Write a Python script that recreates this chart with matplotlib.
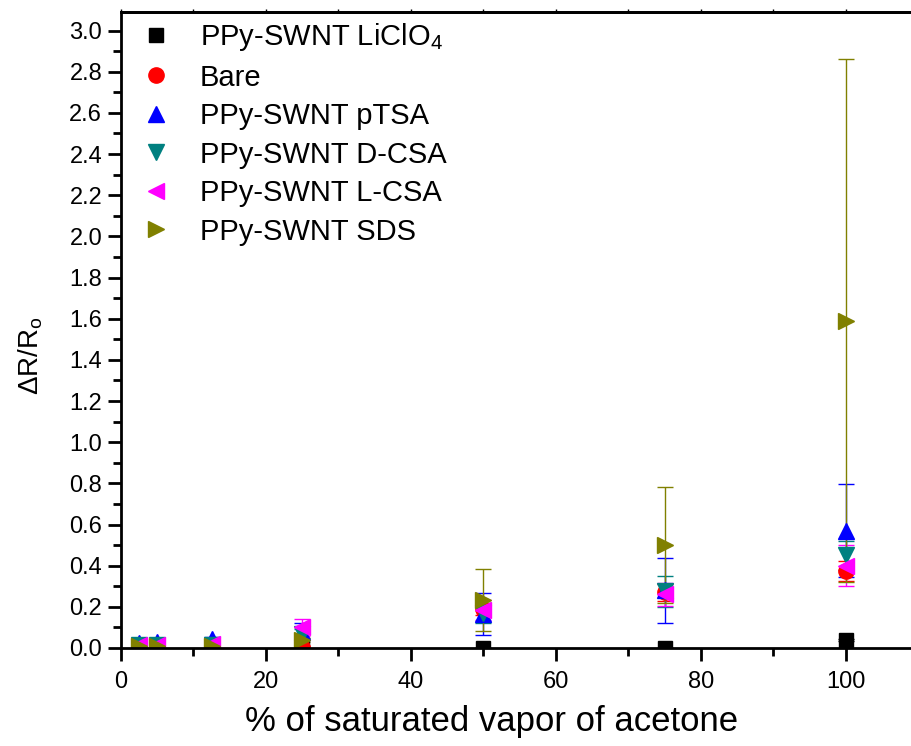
import matplotlib
matplotlib.use("Agg")
import matplotlib.pyplot as plt
from matplotlib.ticker import MultipleLocator, FormatStrFormatter, NullFormatter

plt.rcParams["font.family"] = ["Liberation Sans", "DejaVu Sans"]
plt.rcParams["mathtext.fontset"] = "custom"
plt.rcParams["mathtext.rm"] = "Liberation Sans"
plt.rcParams["mathtext.it"] = "Liberation Sans"

# -- data ---------------------------------------------------------------------
conc = [2.5, 5, 12.5, 25, 50, 75, 100]

licl_y   = [0.0, 0.0, 0.0, 0.0, 0.0, 0.0, 0.04]
licl_err = [0.0, 0.0, 0.0, 0.0, 0.0, 0.0, 0.005]

bare_y   = [0.005, 0.005, 0.005, 0.005, 0.19, 0.27, 0.375]
bare_err = [0.003, 0.003, 0.003, 0.005, 0.03, 0.04, 0.05]

ptsa_y   = [0.025, 0.03, 0.045, 0.08, 0.165, 0.28, 0.57]
ptsa_err = [0.01, 0.01, 0.01, 0.04, 0.10, 0.157, 0.225]

dcsa_y   = [0.015, 0.015, 0.015, 0.07, 0.17, 0.275, 0.45]
dcsa_err = [0.005, 0.005, 0.005, 0.02, 0.05, 0.075, 0.07]

lcsa_y   = [0.015, 0.015, 0.02, 0.10, 0.185, 0.26, 0.40]
lcsa_err = [0.005, 0.005, 0.005, 0.04, 0.047, 0.055, 0.10]

sds_y    = [0.01, 0.01, 0.01, 0.04, 0.233, 0.50, 1.59]
sds_err  = [0.005, 0.005, 0.005, 0.01, 0.15, 0.28, 1.27]

series = [
    (licl_y, licl_err, "PPy-SWNT LiClO$_4$", "s", "black", 10),
    (bare_y, bare_err, "Bare", "o", "red", 11),
    (ptsa_y, ptsa_err, "PPy-SWNT pTSA", "^", "blue", 12),
    (dcsa_y, dcsa_err, "PPy-SWNT D-CSA", "v", "#008080", 12),
    (lcsa_y, lcsa_err, "PPy-SWNT L-CSA", "<", "magenta", 12),
    (sds_y, sds_err, "PPy-SWNT SDS", ">", "#808000", 12),
]

# -- figure -------------------------------------------------------------------
fig = plt.figure(figsize=(9.12, 7.46), dpi=100)
ax = fig.add_axes([121 / 912, 98 / 746, 797.5 / 912, 636 / 746])

handles = []
for y, err, label, mk, col, ms in series:
    c = ax.errorbar(conc, y, yerr=err, fmt=mk, color=col, ms=ms, mec=col,
                    ecolor=col, elinewidth=1, capsize=6, capthick=1,
                    label=label)
    handles.append(c[0])

ax.set_xlim(0, 110)
ax.set_ylim(0, 3.09)
ax.xaxis.set_major_locator(MultipleLocator(20))
ax.xaxis.set_minor_locator(MultipleLocator(10))
ax.yaxis.set_major_locator(MultipleLocator(0.2))
ax.yaxis.set_minor_locator(MultipleLocator(0.1))
ax.yaxis.set_major_formatter(FormatStrFormatter("%.1f"))

for s in ax.spines.values():
    s.set_linewidth(2)
ax.spines["right"].set_visible(False)

ax.tick_params(axis="both", which="major", direction="out", length=9.5,
               width=2, labelsize=17, pad=4)
ax.tick_params(axis="both", which="minor", direction="out", length=5.5,
               width=2)
ax.tick_params(axis="x", which="major", pad=7)

# tiny ticks on the top edge
top = ax.secondary_xaxis("top")
top.xaxis.set_major_locator(MultipleLocator(10))
top.xaxis.set_major_formatter(NullFormatter())
top.tick_params(axis="x", which="major", direction="out", length=2.5, width=1)
top.spines["top"].set_linewidth(2)

ax.set_xlabel("% of saturated vapor of acetone", fontsize=25)
ax.xaxis.set_label_coords(0.465, -0.09)
ax.set_ylabel(r"$\Delta$R/R$_\mathrm{o}$", fontsize=20)
ax.yaxis.set_label_coords(-0.095, 0.46)

labels = [s[2] for s in series]
ax.legend(handles, labels, loc="upper left", bbox_to_anchor=(0.0, 1.004),
          frameon=False, fontsize=21, labelspacing=0.36, handletextpad=0.7,
          borderaxespad=0.0, handlelength=1.6)

plt.savefig("out.png", dpi=100)
plt.close()
